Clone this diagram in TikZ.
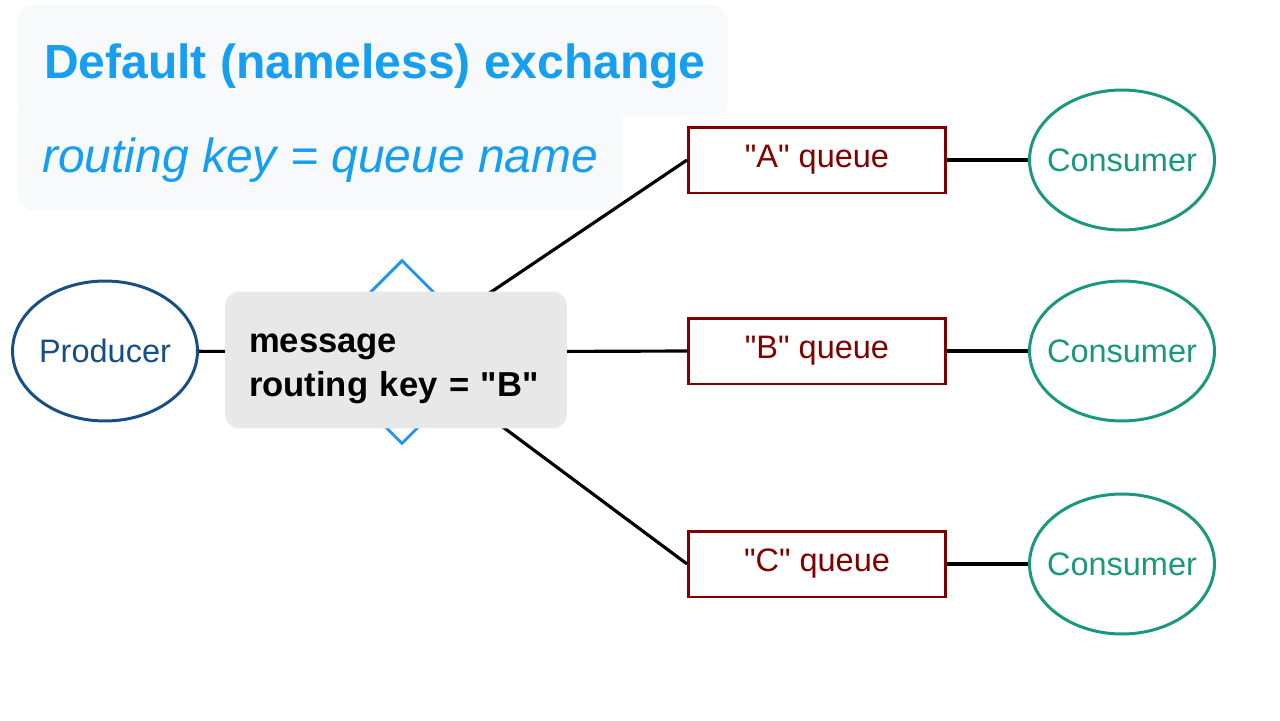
\documentclass[tikz,border=0pt]{standalone}
\usepackage{fontspec}
\setmainfont{Liberation Sans}[Ligatures=TeXOff]
\usetikzlibrary{shapes.geometric}
\definecolor{titleblue}{RGB}{22,158,240}
\definecolor{prodblue}{RGB}{24,78,134}
\definecolor{queuered}{RGB}{128,0,0}
\definecolor{consgreen}{RGB}{26,152,126}
\definecolor{exblue}{RGB}{33,150,243}
\definecolor{msggray}{RGB}{232,232,232}
\definecolor{panel}{RGB}{248,249,251}
\tikzset{
    client/.style={ellipse, draw, line width=1.7pt, inner ysep=0pt, inner xsep=-0.3cm,
        minimum width=3.7cm, minimum height=2.8cm,
        font=\fontsize{18.5}{22}\selectfont},
    queuebox/.style={rectangle, draw=queuered, text=queuered, line width=1.7pt,
        minimum width=5.14cm, minimum height=1.32cm,
        font=\fontsize{18.5}{22}\selectfont},
    link/.style={line width=1.8pt}
}

\begin{document}
\begin{tikzpicture}[x=0.02cm,y=-0.02cm]
\useasboundingbox (0,0) rectangle (1280,720);
\fill[panel, rounded corners=0.3cm] (18,5) rectangle (728,116);
\fill[panel, rounded corners=0.3cm] (18,100) rectangle (622,210);
\node[anchor=base west, inner sep=0pt, text=titleblue, font=\fontsize{27.3}{32}\selectfont\bfseries] (title) at (44,78) {Default (nameless) exchange};
\node[anchor=base west, inner sep=0pt, text=titleblue, font=\fontsize{27.3}{32}\selectfont\itshape] (rule) at (42,172) {routing key = queue name};
\node[client, draw=prodblue, text=prodblue] (producer) at (105,351) {Producer};
\node[diamond, draw=exblue, line width=1.7pt, inner sep=0pt, minimum width=3.68cm, minimum height=3.68cm] (exchange) at (402,352) {};
\node[queuebox] (qA) at (817,160) {"A" queue};
\node[queuebox] (qB) at (817,351) {"B" queue};
\node[queuebox] (qC) at (817,564) {"C" queue};
\node[client, draw=consgreen, text=consgreen] (cA) at (1122,160) {Consumer};
\node[client, draw=consgreen, text=consgreen] (cB) at (1122,351) {Consumer};
\node[client, draw=consgreen, text=consgreen] (cC) at (1122,564) {Consumer};
\draw[link] (producer) -- (exchange);
\draw[link] (exchange.center) -- (qA.west);
\draw[link] (exchange.center) -- (qB.west);
\draw[link] (exchange.center) -- (qC.west);
\foreach \q in {A,B,C}
    \draw[link] (q\q) -- (c\q);
\node[fill=msggray, rounded corners=0.3cm, minimum width=6.84cm, minimum height=2.74cm,
    inner xsep=0.48cm, text width=5.88cm, align=left, text depth=18.8pt,
    font=\fontsize{19.7}{25}\selectfont\bfseries] (msg) at (396,360) {message\\routing key = "B"};
\end{tikzpicture}
\end{document}
